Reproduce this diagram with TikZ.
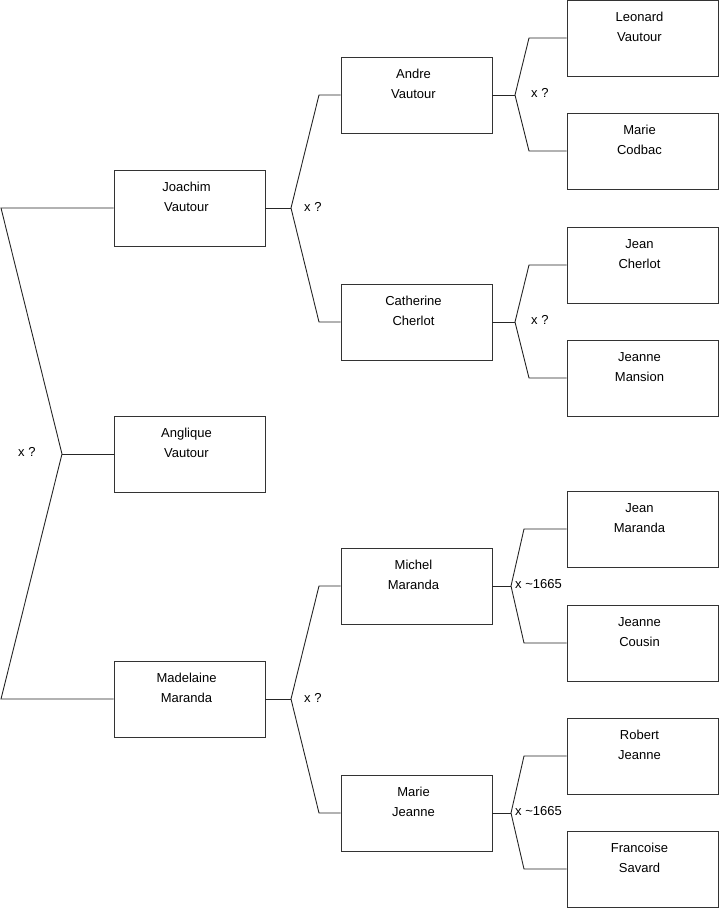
\documentclass[tikz,border=0pt]{standalone}
\usepackage{fontspec}
\setmainfont{Liberation Sans}
\begin{document}
\begin{tikzpicture}[x=1pt,y=-1pt,
  person/.style={draw=black!80,line width=0.9pt,minimum width=151pt,minimum height=76pt,inner sep=0pt},
  pname/.style={align=center,inner sep=0pt,font=\fontsize{13}{20}\selectfont,xshift=-3pt},
  conn/.style={draw=black!85,line width=0.9pt},
  marr/.style={inner sep=0pt,font=\fontsize{13}{14}\selectfont,anchor=west}]
\useasboundingbox (0,0) rectangle (719,908);
% column 1
\node[person] (joachim) at (189.5,208) {};
\node[person] (anglique) at (189.5,454) {};
\node[person] (madelaine) at (189.5,699) {};
% column 2
\node[person] (andre) at (416.5,95) {};
\node[person] (catherine) at (416.5,322) {};
\node[person] (michel) at (416.5,586) {};
\node[person] (mariej) at (416.5,813) {};
% column 3
\node[person] (leonard) at (642.5,38) {};
\node[person] (codbac) at (642.5,151) {};
\node[person] (jeanc) at (642.5,265) {};
\node[person] (mansion) at (642.5,378) {};
\node[person] (jeanm) at (642.5,529) {};
\node[person] (cousin) at (642.5,643) {};
\node[person] (robert) at (642.5,756) {};
\node[person] (savard) at (642.5,869) {};
% names
\node[pname] (t1) at (189.5,197) {Joachim\\Vautour};
\node[pname] (t2) at (189.5,443) {Anglique\\Vautour};
\node[pname] (t3) at (189.5,688) {Madelaine\\Maranda};
\node[pname] (t4) at (416.5,84) {Andre\\Vautour};
\node[pname] (t5) at (416.5,311) {Catherine\\Cherlot};
\node[pname] (t6) at (416.5,575) {Michel\\Maranda};
\node[pname] (t7) at (416.5,802) {Marie\\Jeanne};
\node[pname] (t8) at (642.5,27) {Leonard\\Vautour};
\node[pname] (t9) at (642.5,140) {Marie\\Codbac};
\node[pname] (t10) at (642.5,254) {Jean\\Cherlot};
\node[pname] (t11) at (642.5,367) {Jeanne\\Mansion};
\node[pname] (t12) at (642.5,518) {Jean\\Maranda};
\node[pname] (t13) at (642.5,632) {Jeanne\\Cousin};
\node[pname] (t14) at (642.5,745) {Robert\\Jeanne};
\node[pname] (t15) at (642.5,858) {Francoise\\Savard};
% fork points
\coordinate (l0) at (1,208);
\coordinate (l1) at (62,454);
\coordinate (l2) at (1,699);
\coordinate (fj) at (291,208);
\coordinate (fm) at (291,699);
\coordinate (fa) at (515,95);
\coordinate (fc) at (515,322);
\coordinate (fmi) at (511,586);
\coordinate (fma) at (511,813);
% left fork
\draw[conn] (joachim.west) -- (l0) -- (l1) -- (l2) -- (madelaine.west);
\draw[conn] (l1) -- (anglique.west);
\node[marr] (m1) at (18,452) {x ?};
% Joachim
\draw[conn] (joachim.east) -- (fj);
\draw[conn] (andre.west) -- (319,95) -- (fj) -- (319,322) -- (catherine.west);
\node[marr] (m2) at (304,207) {x ?};
% Madelaine
\draw[conn] (madelaine.east) -- (fm);
\draw[conn] (michel.west) -- (319,586) -- (fm) -- (319,813) -- (mariej.west);
\node[marr] (m3) at (304,698) {x ?};
% Andre
\draw[conn] (andre.east) -- (fa);
\draw[conn] (leonard.west) -- (529,38) -- (fa) -- (529,151) -- (codbac.west);
\node[marr] (m4) at (531,93) {x ?};
% Catherine
\draw[conn] (catherine.east) -- (fc);
\draw[conn] (jeanc.west) -- (529,265) -- (fc) -- (529,378) -- (mansion.west);
\node[marr] (m5) at (531,320) {x ?};
% Michel
\draw[conn] (michel.east) -- (fmi);
\draw[conn] (jeanm.west) -- (524,529) -- (fmi) -- (524,643) -- (cousin.west);
\node[marr] (m6) at (515,584) {x \textasciitilde1665};
% Marie Jeanne
\draw[conn] (mariej.east) -- (fma);
\draw[conn] (robert.west) -- (524,756) -- (fma) -- (524,869) -- (savard.west);
\node[marr] (m7) at (515,811) {x \textasciitilde1665};
\end{tikzpicture}
\end{document}
